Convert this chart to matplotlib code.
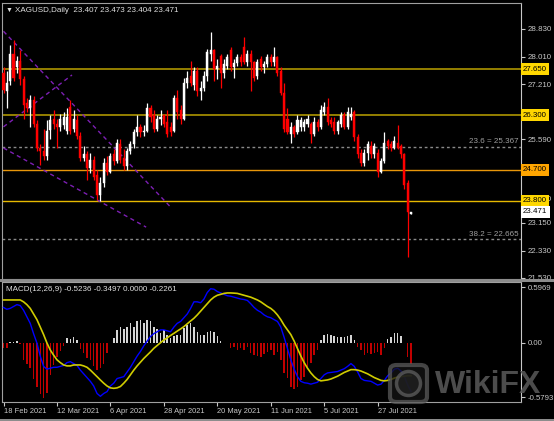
import numpy as np
import matplotlib.pyplot as plt
from matplotlib.patches import Rectangle, FancyBboxPatch, Ellipse
from matplotlib.transforms import blended_transform_factory

plt.rcParams['font.family'] = ['Liberation Sans', 'DejaVu Sans']

# daily XAGUSD candles, 18 Feb 2021 .. 10 Aug 2021
opens = [27.55, 27.00, 27.30, 28.10, 27.70, 27.90, 27.35, 26.65, 26.50, 26.75,
         26.05, 25.35, 25.25, 25.10, 25.87, 26.20, 26.05, 25.95, 26.00, 25.85,
         26.55, 25.90, 26.15, 25.70, 25.05, 25.15, 24.75, 25.00, 24.55, 23.95,
         24.30, 24.90, 24.65, 25.15, 24.95, 25.45, 25.05, 24.80, 25.25, 25.45,
         25.80, 25.95, 25.80, 25.85, 26.50, 26.30, 25.90, 26.20, 26.30, 26.10,
         25.95, 25.85, 26.80, 26.45, 26.20, 27.25, 27.45, 27.20, 27.60, 27.00,
         27.10, 27.45, 28.10, 28.20, 27.65, 28.05, 27.55, 27.75, 28.20, 27.72,
         27.83, 28.00, 28.30, 27.85, 28.10, 27.85, 27.45, 27.95, 27.70, 27.80,
         28.00, 27.85, 28.00, 27.60, 26.95, 26.20, 25.75, 25.95, 25.80, 25.95,
         25.95, 26.05, 26.05, 25.75, 26.10, 25.95, 26.40, 26.55, 26.15, 26.10,
         25.85, 26.05, 26.30, 25.95, 26.25, 26.40, 25.65, 25.20, 24.90, 25.20,
         25.40, 25.15, 25.20, 24.65, 24.95, 25.55, 25.45, 25.35, 25.50, 25.40,
         25.15, 24.30, 23.407]
highs = [27.70, 27.60, 28.36, 28.50, 28.05, 28.20, 27.45, 26.80, 26.90, 26.85,
         26.15, 25.45, 25.90, 26.15, 26.30, 26.45, 26.20, 26.35, 26.40, 26.50,
         26.75, 26.45, 26.30, 25.80, 25.40, 25.25, 25.20, 25.10, 24.70, 24.50,
         25.05, 25.10, 25.20, 25.30, 25.60, 25.60, 25.30, 25.35, 25.55, 25.90,
         26.30, 26.05, 26.00, 26.65, 26.60, 26.45, 26.30, 26.45, 26.35, 26.45,
         26.10, 26.90, 27.05, 26.60, 27.40, 27.60, 27.90, 27.70, 27.70, 27.30,
         27.60, 28.25, 28.74, 28.25, 27.95, 28.10, 27.95, 28.10, 28.30, 27.95,
         28.10, 28.10, 28.60, 28.20, 28.20, 27.90, 27.95, 28.05, 27.90, 28.10,
         28.10, 28.30, 28.05, 27.70, 27.25, 26.50, 26.10, 26.00, 26.30, 26.25,
         26.20, 26.30, 26.10, 26.25, 26.20, 26.60, 26.70, 26.80, 26.25, 26.25,
         26.15, 26.40, 26.40, 26.55, 26.55, 26.45, 25.75, 25.30, 25.30, 25.55,
         25.55, 25.50, 25.30, 25.05, 25.80, 25.60, 25.55, 25.70, 26.00, 25.45,
         25.20, 24.40, 23.473]
lows = [26.95, 26.50, 27.20, 27.30, 27.55, 27.20, 26.20, 26.40, 25.95, 25.95,
        25.25, 24.85, 25.00, 25.00, 25.60, 25.90, 25.35, 25.85, 25.90, 25.75,
        25.75, 25.80, 25.60, 24.95, 24.95, 24.40, 24.60, 24.40, 23.83, 23.78,
        24.20, 24.55, 24.60, 24.85, 24.90, 24.90, 24.70, 24.70, 25.15, 25.35,
        25.70, 25.65, 25.70, 25.80, 26.10, 25.80, 25.85, 26.00, 25.95, 25.65,
        25.70, 25.80, 26.20, 26.05, 26.15, 27.10, 27.15, 27.05, 26.85, 26.75,
        27.00, 27.30, 27.90, 27.30, 27.35, 27.10, 27.40, 27.65, 27.60, 27.40,
        27.75, 27.75, 27.80, 27.75, 27.00, 27.30, 27.35, 27.60, 27.55, 27.70,
        27.75, 27.75, 27.45, 26.90, 25.80, 25.75, 25.50, 25.65, 25.75, 25.85,
        25.85, 25.95, 25.50, 25.70, 25.85, 25.90, 26.30, 26.00, 25.95, 25.75,
        25.75, 25.95, 25.90, 25.90, 26.15, 25.55, 25.05, 24.80, 24.80, 25.00,
        25.05, 25.05, 24.50, 24.60, 24.90, 25.30, 25.25, 25.30, 25.30, 25.05,
        24.15, 22.15, 23.404]
closes = [27.05, 27.25, 28.10, 27.40, 27.88, 27.35, 26.60, 26.50, 26.75, 26.05,
          25.35, 25.25, 25.10, 25.85, 26.15, 26.05, 25.95, 26.20, 26.25, 26.25,
          25.85, 26.20, 25.70, 25.05, 25.15, 24.75, 25.00, 24.50, 23.95, 24.30,
          24.90, 24.65, 25.10, 24.95, 25.50, 25.00, 24.80, 25.25, 25.45, 25.80,
          25.95, 25.80, 25.85, 26.50, 26.25, 25.90, 26.20, 26.25, 26.05, 25.75,
          25.80, 26.80, 26.40, 26.20, 27.25, 27.40, 27.25, 27.60, 27.00, 27.10,
          27.45, 28.15, 28.20, 27.65, 27.75, 27.55, 27.80, 28.00, 27.70, 27.83,
          28.00, 27.85, 27.85, 28.10, 27.85, 27.40, 27.85, 27.72, 27.80, 28.00,
          27.85, 28.00, 27.55, 26.95, 25.90, 25.80, 25.95, 25.75, 26.15, 26.15,
          26.10, 26.20, 25.75, 26.10, 25.95, 26.45, 26.55, 26.10, 26.05, 25.85,
          26.10, 26.30, 25.95, 26.40, 26.35, 25.65, 25.15, 24.90, 25.20, 25.45,
          25.15, 25.40, 24.65, 24.95, 25.50, 25.40, 25.35, 25.55, 25.35, 25.15,
          24.25, 23.45, 23.471]

macd_main = [0.38, 0.36, 0.37, 0.39, 0.41, 0.40, 0.35, 0.28, 0.21, 0.10,
             0.0, -0.14, -0.25, -0.28, -0.27, -0.26, -0.26, -0.25, -0.24, -0.21,
             -0.20, -0.22, -0.24, -0.29, -0.33, -0.37, -0.41, -0.46, -0.54, -0.57,
             -0.54, -0.52, -0.46, -0.43, -0.38, -0.37, -0.36, -0.31, -0.26, -0.20,
             -0.14, -0.09, -0.03, 0.02, 0.07, 0.10, 0.12, 0.14, 0.14, 0.13,
             0.12, 0.17, 0.21, 0.23, 0.27, 0.31, 0.37, 0.44, 0.44, 0.43,
             0.47, 0.54, 0.58, 0.575, 0.55, 0.535, 0.52, 0.505, 0.50, 0.49,
             0.48, 0.47, 0.465, 0.455, 0.42, 0.38, 0.35, 0.33, 0.30, 0.28,
             0.27, 0.25, 0.23, 0.17, 0.06, -0.06, -0.18, -0.28, -0.36, -0.41,
             -0.425, -0.43, -0.44, -0.43, -0.42, -0.38, -0.34, -0.32, -0.315, -0.31,
             -0.305, -0.29, -0.275, -0.25, -0.22, -0.25, -0.31, -0.38, -0.40, -0.405,
             -0.41, -0.43, -0.45, -0.44, -0.40, -0.35, -0.32, -0.28, -0.27, -0.30,
             -0.36, -0.45, -0.52]
macd_signal = [0.46, 0.46, 0.46, 0.46, 0.46, 0.46, 0.44, 0.41, 0.37, 0.31,
               0.25, 0.17, 0.09, 0.0, -0.075, -0.13, -0.18, -0.21, -0.235, -0.245,
               -0.245, -0.235, -0.235, -0.235, -0.245, -0.26, -0.29, -0.325, -0.36, -0.396,
               -0.43, -0.46, -0.48, -0.485, -0.48, -0.465, -0.43, -0.39, -0.34, -0.29,
               -0.245, -0.205, -0.165, -0.13, -0.095, -0.057, -0.027, 0.003, 0.032, 0.055,
               0.08, 0.103, 0.127, 0.15, 0.175, 0.205, 0.235, 0.264, 0.30, 0.34,
               0.38, 0.42, 0.46, 0.49, 0.51, 0.52, 0.53, 0.535, 0.535, 0.533,
               0.53, 0.52, 0.51, 0.50, 0.49, 0.475, 0.46, 0.44, 0.415, 0.39,
               0.37, 0.34, 0.30, 0.25, 0.19, 0.14, 0.09, 0.02, -0.06, -0.14,
               -0.21, -0.27, -0.32, -0.36, -0.39, -0.405, -0.40, -0.395, -0.385, -0.37,
               -0.355, -0.335, -0.315, -0.30, -0.285, -0.285, -0.29, -0.30, -0.315, -0.33,
               -0.35, -0.37, -0.385, -0.40, -0.405, -0.40, -0.39, -0.375, -0.365, -0.36,
               -0.355, -0.35, -0.35]
macd_hist = [-0.05, -0.05, 0.01, 0.01, 0.025, -0.01, -0.18, -0.22, -0.27, -0.38,
             -0.47, -0.55, -0.59, -0.54, -0.34, -0.24, -0.15, -0.09, -0.03, 0.05,
             0.04, 0.06, 0.03, -0.06, -0.11, -0.16, -0.18, -0.25, -0.29, -0.27,
             -0.22, -0.11, 0.0, 0.05, 0.14, 0.175, 0.146, 0.175, 0.21, 0.175,
             0.23, 0.246, 0.21, 0.246, 0.23, 0.175, 0.146, 0.103, 0.139, 0.086,
             0.05, 0.07, 0.086, 0.086, 0.157, 0.193, 0.21, 0.175, 0.121, 0.09,
             0.09, 0.12, 0.13, 0.12, 0.07, 0.02, 0.0, 0.0, -0.057, -0.04,
             -0.075, -0.057, -0.075, -0.04, -0.11, -0.128, -0.139, -0.146, -0.118, -0.093,
             -0.075, -0.128, -0.093, -0.18, -0.325, -0.378, -0.467, -0.496, -0.467, -0.396,
             -0.36, -0.253, -0.217, -0.128, -0.075, 0.032, 0.086, 0.096, 0.086, 0.075,
             0.068, 0.068, 0.06, 0.075, 0.086, 0.032, -0.04, -0.075, -0.128, -0.11,
             -0.118, -0.103, -0.093, -0.128, -0.057, 0.04, 0.068, 0.103, 0.11, 0.075,
             0.0, -0.15, -0.226]

date_ticks = [0, 16, 32, 48, 64, 80, 96, 112]
date_labels = ['18 Feb 2021', '12 Mar 2021', '6 Apr 2021', '28 Apr 2021',
               '20 May 2021', '11 Jun 2021', '5 Jul 2021', '27 Jul 2021']
price_ticks = [28.83, 28.01, 27.21, 25.59, 23.87, 23.15, 22.33, 21.53]
levels = [27.65, 26.30, 24.70, 23.80]
level_colors = ['#a08a00', '#a08a00', '#e8960a', '#e6b800']
box_colors = ['#ffd700', '#ffd700', '#ffa500', '#ffd700']
fib_levels = [25.367, 22.665]
fib_labels = ['23.6 = 25.367', '38.2 = 22.665']
trendlines = [((0, 28.76), (50, 23.61)),
              ((0, 25.96), (20.5, 27.48)),
              ((0, 25.34), (42.7, 23.02))]
macd_ticks = [0.5969, 0.0, -0.5793]
macd_tick_labels = ['0.5969', '0.00', '-0.5793']

W, H = 554, 421
fig = plt.figure(figsize=(W / 100, H / 100), dpi=100, facecolor='black')
ax = fig.add_axes([2 / W, 1 - 279 / H, 519 / W, 276 / H], facecolor='black')
ax2 = fig.add_axes([2 / W, 1 - 402 / H, 519 / W, 120 / H], facecolor='black')

x = np.arange(len(closes))
o = np.array(opens); c = np.array(closes)
up = c >= o
col = np.where(up, '#ffffff', '#ff0000')

# candles
ax.vlines(x, lows, highs, colors=col, lw=0.9, zorder=3)
body = np.maximum(np.abs(c - o), 0.025)
ax.bar(x, body, bottom=np.minimum(o, c), width=0.62, color=col, edgecolor=col,
       lw=0.3, zorder=4)

for lv, lc in zip(levels, level_colors):
    ax.axhline(lv, color=lc, lw=1.3 if lc == '#a08a00' else 1.0, zorder=2)

for fv, fl in zip(fib_levels, fib_labels):
    ax.axhline(fv, color='#8a8a8a', lw=1.0, ls=(0, (2, 2)), zorder=2)
    ax.text(0.996, fv + 0.05, fl, transform=blended_transform_factory(ax.transAxes, ax.transData),
            ha='right', va='bottom', fontsize=5.8, color='#a0a0a0')

for (x0, y0), (x1, y1) in trendlines:
    ax.plot([x0, x1], [y0, y1], color='#7d1fb4', lw=1.0, ls=(0, (3, 2.5)), zorder=2)

ax.set_xlim(-0.45, 154.9)
ax.set_ylim(21.50, 29.59)
ax.set_xticks([])
ax.yaxis.tick_right()
ax.set_yticks(price_ticks)
ax.set_yticklabels([f'{p:.3f}' for p in price_ticks])
ax.tick_params(axis='y', colors='#c8c8c8', labelsize=5.7, length=3, width=0.8, pad=1.5)
for s in ax.spines.values():
    s.set_color('#a0a0a0')
ax.spines['right'].set_color('#c8c8c8')

tr = blended_transform_factory(ax.transAxes, ax.transData)
for lv, bc in zip(levels, box_colors):
    ax.text(1.004, lv, f'{lv:.3f}', transform=tr, ha='left', va='center', fontsize=5.7,
            color='black', zorder=10,
            bbox=dict(boxstyle='square,pad=0.3', fc=bc, ec='none'))
ax.text(1.004, closes[-1], f'{closes[-1]:.3f}', transform=tr, ha='left', va='center',
        fontsize=5.7, color='black', zorder=10,
        bbox=dict(boxstyle='square,pad=0.3', fc='white', ec='none'))

fig.text(6 / W, 1 - 10 / H, '\u25bc', fontsize=5, color='#e0e0e0', va='center')
fig.text(15 / W, 1 - 10 / H, 'XAGUSD,Daily  23.407 23.473 23.404 23.471',
         fontsize=5.8, color='#e0e0e0', va='center')

# MACD panel
h = np.array(macd_hist)
ax2.bar(x, h, width=0.45, color=np.where(h < 0, '#c00000', '#d4d4d4'), zorder=2)
ax2.plot(x, macd_main, color='#0000ff', lw=1.0, zorder=3)
ax2.plot(x, macd_signal, color='#d0cc00', lw=1.2, zorder=3)
ax2.set_xlim(-0.45, 154.9)
ax2.set_ylim(-0.631, 0.652)
ax2.yaxis.tick_right()
ax2.set_yticks(macd_ticks)
ax2.set_yticklabels(macd_tick_labels)
ax2.set_xticks(date_ticks)
ax2.set_xticklabels(date_labels)
for lab in ax2.get_xticklabels():
    lab.set_ha('left')
ax2.tick_params(axis='x', colors='#c8c8c8', labelsize=5.4, length=3, width=0.8, pad=1.5)
ax2.tick_params(axis='y', colors='#c8c8c8', labelsize=5.6, length=3, width=0.8, pad=1.5)
for s in ax2.spines.values():
    s.set_color('#a0a0a0')
ax2.spines['right'].set_color('#c8c8c8')
ax2.text(0.008, 0.97, 'MACD(12,26,9) -0.5236 -0.3497 0.0000 -0.2261',
         transform=ax2.transAxes, ha='left', va='top', fontsize=5.8, color='#e0e0e0')

# panel separator
fig.add_artist(Rectangle((0, 1 - 282 / H), 1, 3 / H, transform=fig.transFigure,
                         fc='#8c8c8c', ec='none'))
fig.add_artist(Rectangle((0, 0), 1, 2 / H, transform=fig.transFigure,
                         fc='#8c8c8c', ec='none'))

# watermark
fig.add_artist(FancyBboxPatch((390 / W, 1 - 402 / H), 37 / W, 37 / H,
                              boxstyle='round,pad=0,rounding_size=0.012',
                              transform=fig.transFigure, fc='#151515', ec='#5a5a5a',
                              lw=3, alpha=0.75, zorder=20))
fig.add_artist(Ellipse((408.5 / W, 1 - 383.5 / H), 24 / W, 24 / H,
                       transform=fig.transFigure, fc='#202020', ec='#5a5a5a',
                       lw=2.5, alpha=0.8, zorder=21))
fig.text(435 / W, 1 - 385 / H, 'WikiFX', fontsize=23, fontweight='bold',
         color='#555555', alpha=0.9, va='center', ha='left', zorder=22)

fig.savefig('out.png', dpi=100, facecolor='black')
